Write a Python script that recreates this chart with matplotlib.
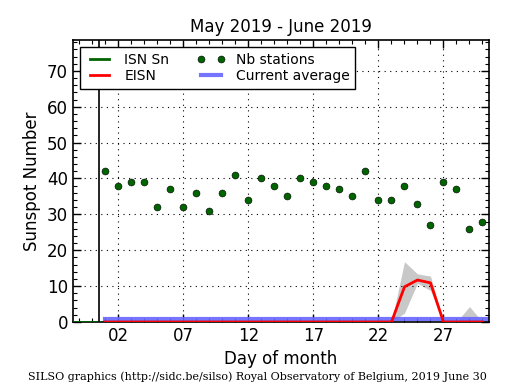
import numpy as np
import matplotlib
matplotlib.use("Agg")
import matplotlib.pyplot as plt
from matplotlib.ticker import MultipleLocator, FixedLocator

# data
days = np.arange(1, 31)
nb_stations = [42, 38, 39, 39, 32, 37, 32, 36, 31, 36,
               41, 34, 40, 38, 35, 40, 39, 38, 37, 35,
               42, 34, 34, 38, 33, 27, 39, 37, 26, 28]
eisn = [0, 0, 0, 0, 0, 0, 0, 0, 0, 0,
        0, 0, 0, 0, 0, 0, 0, 0, 0, 0,
        0, 0, 0, 9.8, 11.7, 10.9, 0, 0, 0, 0]
eisn_hi = [0, 0, 0, 0, 0, 0, 0, 0, 0, 0,
           0, 0, 0, 0, 0, 0, 0, 0, 0, 0,
           0, 0, 0, 16.8, 13.4, 12.8, 0, 0, 4.3, 0]
eisn_lo = [0, 0, 0, 0, 0, 0, 0, 0, 0, 0,
           0, 0, 0, 0, 0, 0, 0, 0, 0, 0,
           0, 0, 0, 2.5, 10.8, 8.8, 0, 0, 0, 0]
isn_days = [-1.5, 0.5]
isn = [0, 0]
avg_days = [1, 30.5]
current_avg = [0.7, 0.7]
tick_days = [2, 7, 12, 17, 22, 27]
tick_labels = ["02", "07", "12", "17", "22", "27"]

fig = plt.figure(figsize=(5.15, 3.9), dpi=100)
ax = fig.add_axes([0.1417, 0.1744, 0.8078, 0.723])

ax.fill_between(days, eisn_lo, eisn_hi, color="#c8c8c8", lw=0, zorder=1)
ax.plot(isn_days, isn, color="#006400", lw=2, label="ISN Sn", zorder=3)
ax.plot(days, eisn, color="red", lw=2, label="EISN", zorder=3)
ax.plot(days, nb_stations, "o", color="#006400", mec="black", mew=0.4,
        ms=5, label="Nb stations", zorder=4)
ax.plot(avg_days, current_avg, color="#6666ff", lw=3, alpha=0.9,
        label="Current average", zorder=2)
ax.axvline(0.5, color="black", lw=1.2, zorder=3)

ax.set_xlim(-1.5, 30.5)
ax.set_ylim(0, 78.6)
ax.xaxis.set_major_locator(FixedLocator(tick_days))
ax.set_xticklabels(tick_labels)
ax.xaxis.set_minor_locator(MultipleLocator(1))
ax.yaxis.set_major_locator(MultipleLocator(10))
ax.yaxis.set_minor_locator(MultipleLocator(2))
ax.tick_params(which="both", direction="in", top=True, right=True,
               labelsize=12)
ax.tick_params(which="major", length=6, width=1)
ax.tick_params(which="minor", length=3, width=0.8)
ax.grid(True, which="major", color="black", linestyle=(0, (1, 4)), lw=0.8)
for s in ax.spines.values():
    s.set_linewidth(1.2)

ax.set_title("May 2019 - June 2019", fontsize=12)
ax.set_xlabel("Day of month", fontsize=12)
ax.set_ylabel("Sunspot Number", fontsize=12)

leg = ax.legend(loc="upper left", ncol=2, fontsize=10, fancybox=False,
                edgecolor="black", framealpha=1, numpoints=2,
                borderaxespad=0.5, handlelength=2, columnspacing=2.0,
                labelspacing=0.2)
leg.get_frame().set_linewidth(1)

fig.text(0.5, 0.025,
         "SILSO graphics (http://sidc.be/silso) Royal Observatory of Belgium, 2019 June 30",
         ha="center", fontsize=8, family="DejaVu Serif")

fig.savefig("out.png", dpi=100)
